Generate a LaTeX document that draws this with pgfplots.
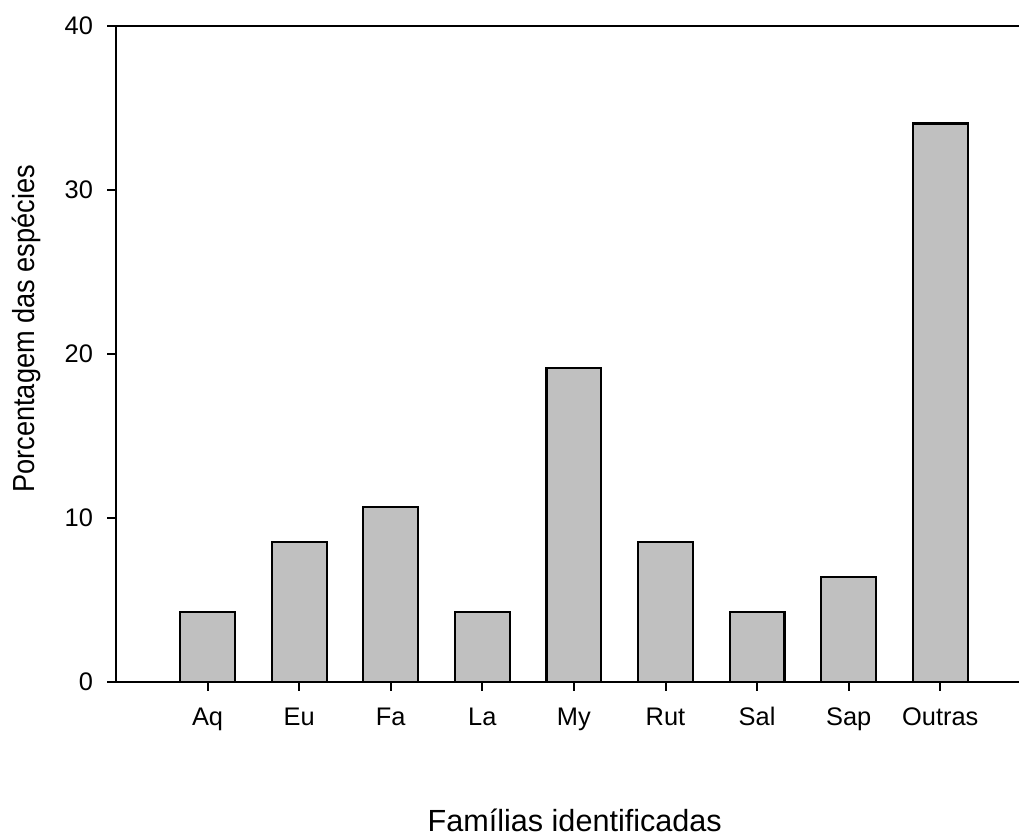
\documentclass[border=0pt]{standalone}
\usepackage{fontspec}
\setmainfont{Liberation Sans}
\usepackage{graphicx}
\usepackage{pgfplots}
\pgfplotsset{compat=1.18}
\definecolor{barfill}{RGB}{192,192,192}
\begin{document}
\begin{tikzpicture}
\useasboundingbox (0,0) rectangle (509.5pt,418.5pt);
\begin{axis}[
  at={(58pt,77.65pt)}, anchor=south west,
  scale only axis,
  width=451.5pt, height=328pt,
  xmin=0, xmax=9.86,
  ymin=0, ymax=40,
  axis lines=left,
  axis line style={-, line width=1pt},
  tick align=outside,
  major tick length=4.5pt,
  tick style={line width=1pt, black},
  xtick={1,...,9},
  xticklabels={Aq,Eu,Fa,La,My,Rut,Sal,Sap,Outras},
  ytick={0,10,20,30,40},
  /pgf/number format/assume math mode=true,
  ticklabel style={font=\fontsize{12.7}{15}\selectfont},
  xticklabel style={text height=1.6ex, text depth=0.35ex, yshift=-5.5pt},
  yticklabel style={xshift=-3.5pt},
  xlabel={Famílias identificadas},
  ylabel={\scalebox{1}[1.12]{Porcentagem das espécies}},
  xlabel style={font=\fontsize{15.3}{18}\selectfont, at={(axis description cs:0.508,-0.229)}, anchor=base},
  ylabel style={font=\fontsize{13.6}{16}\selectfont, at={(axis description cs:-0.099,0.538)}, anchor=center},
  clip=false,
]
\addplot[ybar, bar width=0.6, fill=barfill, draw=black, line width=1.1pt]
  coordinates {(1,4.26) (2,8.51) (3,10.64) (4,4.26) (5,19.15) (6,8.51) (7,4.26) (8,6.38) (9,34.04)};
\draw[line width=1pt] (rel axis cs:0,1) -- (rel axis cs:1,1);
\end{axis}
\end{tikzpicture}
\end{document}
